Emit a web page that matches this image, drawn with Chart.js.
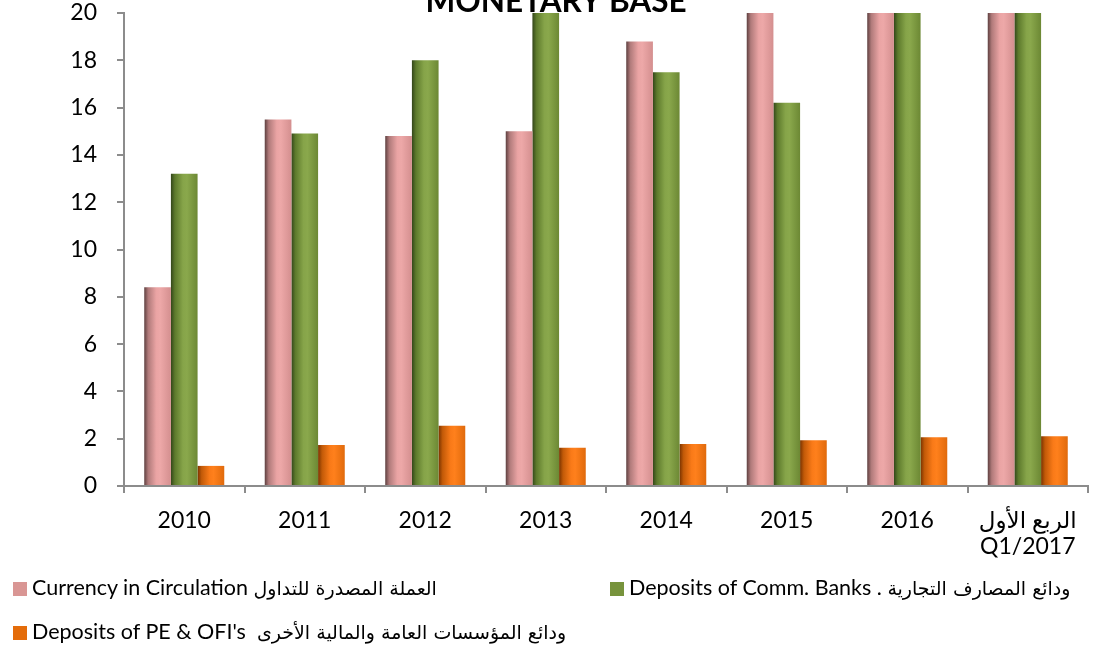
<!DOCTYPE html>
<html>
<head>
<meta charset="utf-8">
<script src="https://cdn.jsdelivr.net/npm/chart.js@4.4.1/dist/chart.umd.min.js"></script>
<style>
  html, body { margin: 0; padding: 0; background: #fff; }
  #wrap { position: relative; width: 1099px; height: 649px; overflow: hidden; }
  #myChart { position: absolute; left: 0; top: 0; }
  .leg { position: absolute; color: #000; white-space: nowrap; line-height: 24px; height: 24px; }
  .leg i { display: inline-block; width: 14px; height: 14px; margin-right: 5px; vertical-align: -1px; }
  .leg .en { font-family: Lato, sans-serif; font-size: 21.5px; }
  .leg .ar { font-family: "DejaVu Sans", sans-serif; font-size: 19px; }
</style>
</head>
<body>
<div id="wrap">
  <canvas id="myChart" width="1099" height="649"></canvas>
  <div class="leg" style="left:13px; top:575px;"><i style="background:#d99694"></i><span class="en">Currency in Circulation </span><bdi class="ar">العملة المصدرة للتداول</bdi></div>
  <div class="leg" style="left:610px; top:575px;"><i style="background:#77933c"></i><span class="en">Deposits of Comm. Banks . </span><bdi class="ar">ودائع المصارف التجارية</bdi></div>
  <div class="leg" style="left:13px; top:619px;"><i style="background:#e46c0a"></i><span class="en">Deposits of PE &amp; OFI's&nbsp; </span><bdi class="ar">ودائع المؤسسات العامة والمالية الأخرى</bdi></div>
</div>
<script>
// categories and values (bars above 20 are cut off at the top of the axis)
var categories = ['2010', '2011', '2012', '2013', '2014', '2015', '2016', ['الربع الأول', 'Q1/2017']];
var currency = [8.4, 15.5, 14.8, 15.0, 18.8, 21.0, 23.0, 23.5];
var commBanks = [13.2, 14.9, 18.0, 22.0, 17.5, 16.2, 24.0, 24.5];
var peOfi = [0.85, 1.73, 2.55, 1.62, 1.78, 1.93, 2.06, 2.1];
var yTicks = [0, 2, 4, 6, 8, 10, 12, 14, 16, 18, 20];

// shading stops for the cylinder look: left edge, middle, right edge
var shades = [
    ['#5e4040', '#b07a7a', '#eaa4a4', '#eda8a8', '#d48f8f'],
    ['#33461a', '#5d7a2c', '#86a449', '#8aa84c', '#6c8834'],
    ['#7a3300', '#c25a08', '#f97a18', '#ff801c', '#e06a0c']
];

var barShading = {
    id: 'barShading',
    beforeDatasetsDraw: function(chart) {
        var ctx = chart.ctx;
        chart.data.datasets.forEach(function(ds, di) {
            var meta = chart.getDatasetMeta(di);
            meta.data.forEach(function(bar) {
                var l = bar.x - bar.width / 2, r = bar.x + bar.width / 2;
                var g = ctx.createLinearGradient(l, 0, r, 0);
                var s = shades[di];
                g.addColorStop(0, s[0]);
                g.addColorStop(0.15, s[1]);
                g.addColorStop(0.45, s[2]);
                g.addColorStop(0.6, s[3]);
                g.addColorStop(1, s[4]);
                bar.options = Object.assign({}, bar.options, { backgroundColor: g });
            });
        });
    }
};

var titleText = {
    id: 'titleText',
    afterDraw: function(chart) {
        var ctx = chart.ctx;
        ctx.save();
        ctx.font = 'bold 31.5px Lato, "DejaVu Sans", sans-serif';
        ctx.fillStyle = '#000';
        ctx.textAlign = 'center';
        ctx.textBaseline = 'alphabetic';
        ctx.fillText('MONETARY BASE', 556, 12);
        ctx.restore();
    }
};

var data = {
    labels: categories,
    datasets: [
        { label: 'Currency in Circulation العملة المصدرة للتداول', data: currency, backgroundColor: '#d99694', clip: 0 },
        { label: 'Deposits of Comm. Banks . ودائع المصارف التجارية', data: commBanks, backgroundColor: '#77933c', clip: 0 },
        { label: "Deposits of PE & OFI's ودائع المؤسسات العامة والمالية الأخرى", data: peOfi, backgroundColor: '#e46c0a', clip: 0 }
    ]
};

var options = {
    responsive: false,
    animation: false,
    layout: { padding: { top: 13, right: 11, left: 0, bottom: 83 } },
    datasets: { bar: { categoryPercentage: 0.664, barPercentage: 1.0, borderWidth: 0 } },
    plugins: { legend: { display: false }, title: { display: false }, tooltip: { enabled: false } },
    scales: {
        x: {
            offset: true,
            grid: { display: true, drawOnChartArea: false, offset: true, tickLength: 7, color: '#8c8c8c', lineWidth: 2 },
            border: { color: '#8c8c8c', width: 2 },
            ticks: { color: '#000', padding: 15, maxRotation: 0, font: { family: 'Lato, "DejaVu Sans", sans-serif', size: 23, lineHeight: 1.13 } },
            afterFit: function(s) { s.height = 80; s.paddingLeft = 0; s.paddingRight = 0; }
        },
        y: {
            min: 0,
            max: 20,
            afterBuildTicks: function(s) { s.ticks = yTicks.map(function(v) { return { value: v }; }); },
            grid: { display: true, drawOnChartArea: false, tickLength: 7, color: '#8c8c8c', lineWidth: 2 },
            border: { color: '#8c8c8c', width: 2 },
            ticks: { color: '#000', padding: 20, font: { family: 'Lato, "DejaVu Sans", sans-serif', size: 23 } },
            afterFit: function(s) { s.width = 124; s.paddingTop = 0; s.paddingBottom = 0; }
        }
    }
};

var ctx = document.getElementById('myChart').getContext('2d');
var myChart = new Chart(ctx, {
    type: 'bar',
    data: data,
    options: options,
    plugins: [barShading, titleText]
});
</script>
</body>
</html>
